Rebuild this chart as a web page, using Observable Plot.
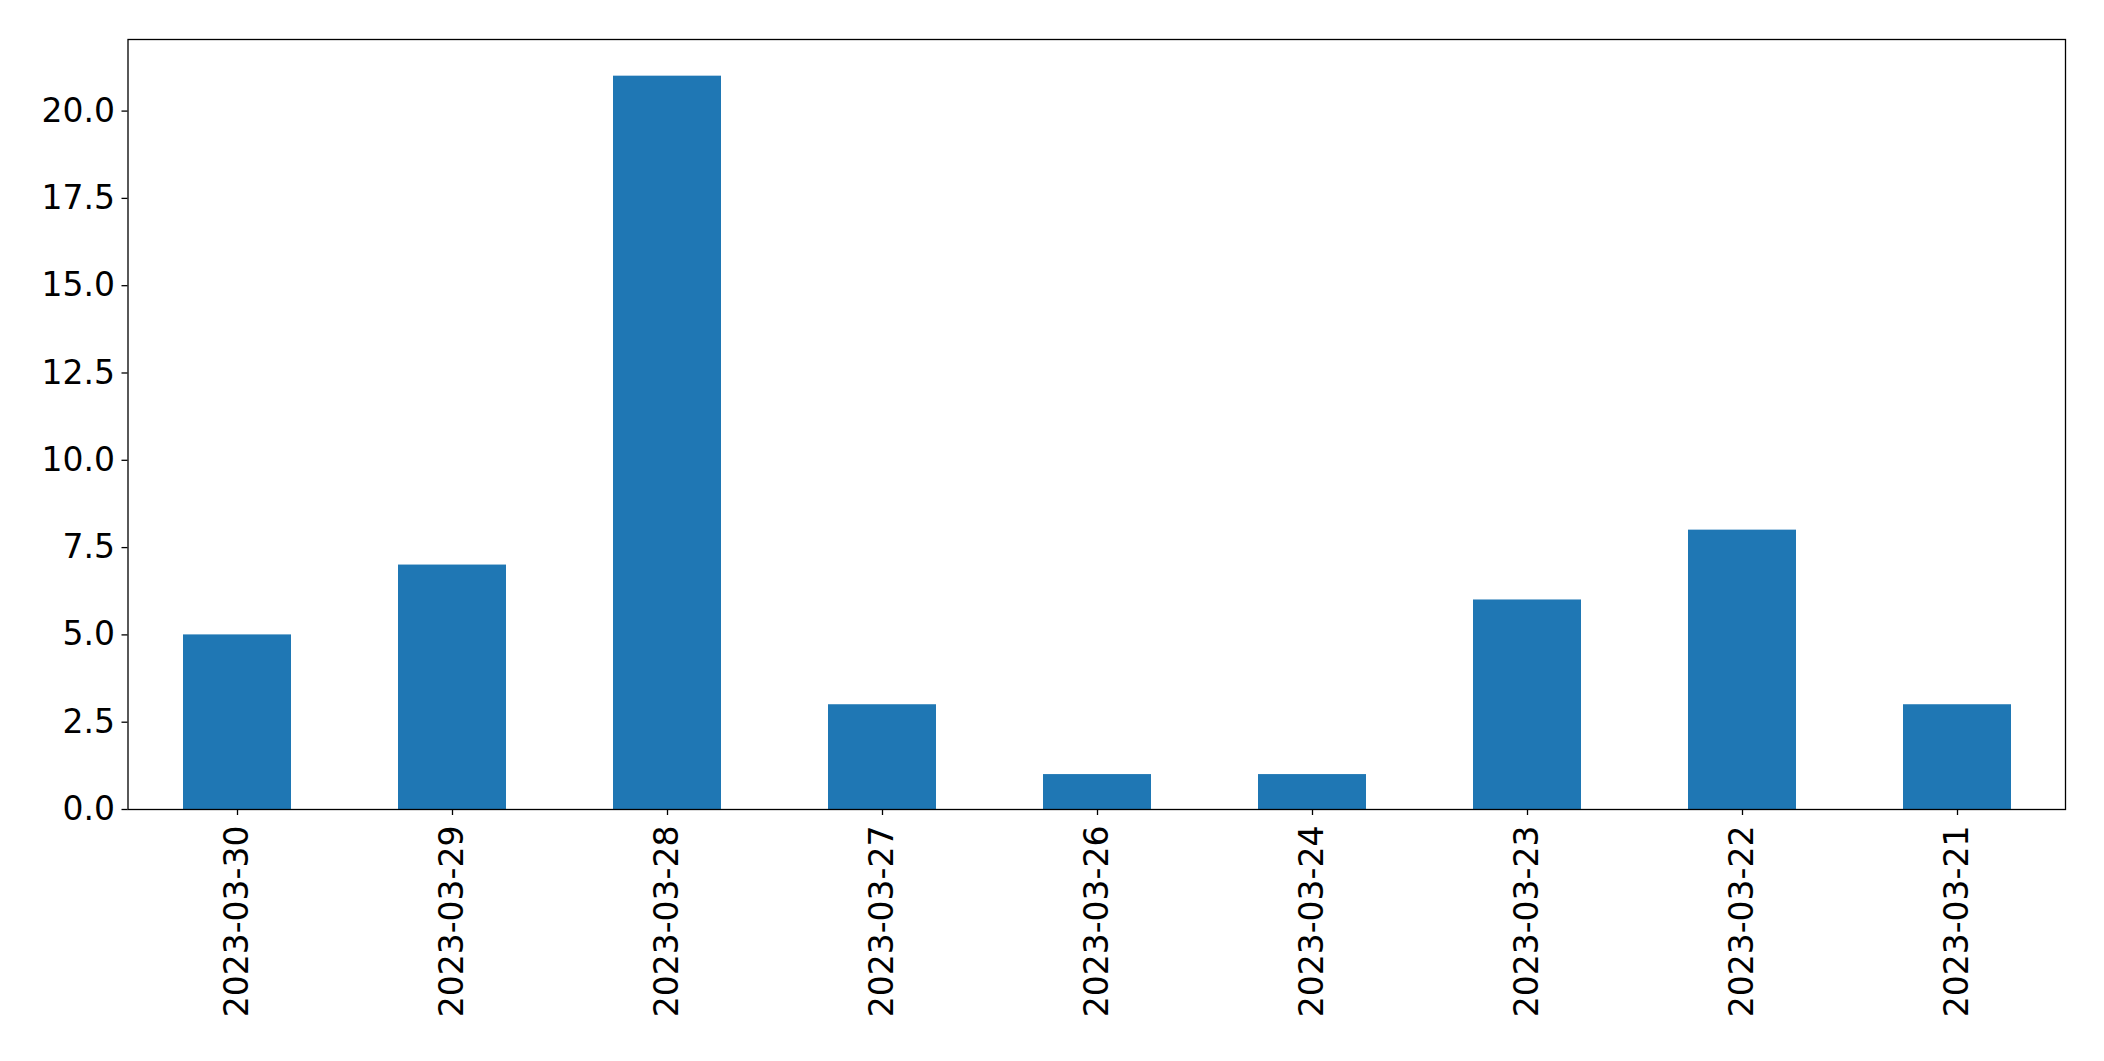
<!DOCTYPE html>
<html>
<head>
<meta charset="utf-8">
<script src="https://cdn.jsdelivr.net/npm/d3@7"></script>
<script src="https://cdn.jsdelivr.net/npm/@observablehq/plot@0.6"></script>
<style>
html, body { margin: 0; padding: 0; background: #fff; }
#chart svg { display: block; }
</style>
</head>
<body>
<div id="chart"></div>
<script>
const dates = ["2023-03-30","2023-03-29","2023-03-28","2023-03-27","2023-03-26","2023-03-24","2023-03-23","2023-03-22","2023-03-21"];
const counts = [5, 7, 21, 3, 1, 1, 6, 8, 3];
const yTicks = [0, 2.5, 5, 7.5, 10, 12.5, 15, 17.5, 20];

const data = dates.map((d, i) => ({date: d, count: counts[i]}));

const chart = Plot.plot({
  width: 2104,
  height: 1061,
  marginLeft: 127.5,
  marginRight: 39,
  marginTop: 39,
  marginBottom: 252,
  style: {fontFamily: "DejaVu Sans", fontSize: "33px", color: "black", background: "white"},
  x: {domain: dates, paddingInner: 0.5, paddingOuter: 0.25, label: null},
  y: {domain: [0, 22.05], label: null},
  marks: [
    Plot.barY(data, {x: "date", y: "count", fill: "#1f77b4"}),
    Plot.axisX({tickRotate: -90, tickSize: 6, tickPadding: 10, fontSize: 33, stroke: "black", strokeWidth: 1.3}),
    Plot.axisY({ticks: yTicks, tickFormat: d3.format(".1f"), tickSize: 6, tickPadding: 7, fontSize: 33, stroke: "black", strokeWidth: 1.3}),
    Plot.frame({stroke: "black", strokeWidth: 1.3})
  ]
});
document.getElementById("chart").appendChild(chart);
</script>
</body>
</html>
